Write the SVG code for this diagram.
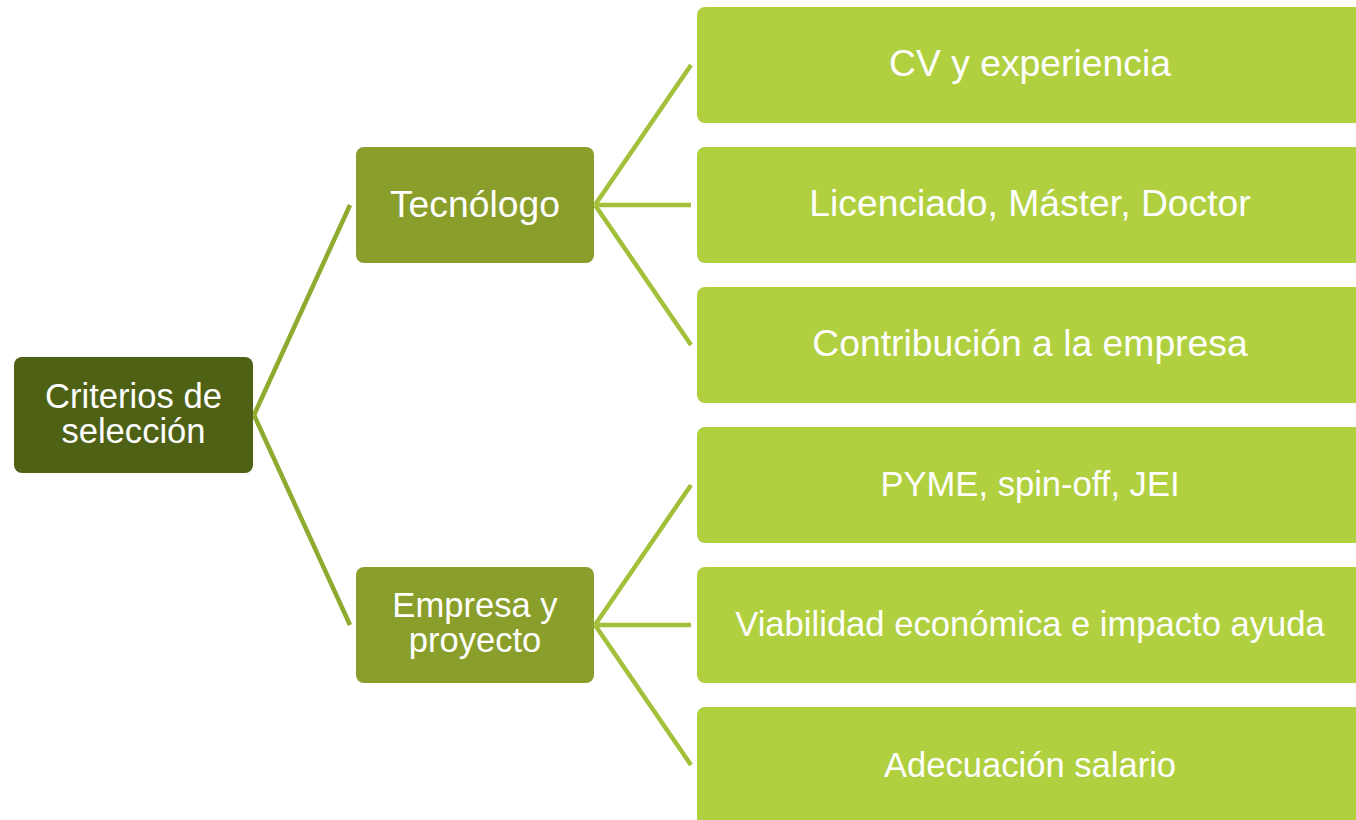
<svg xmlns="http://www.w3.org/2000/svg" width="1356" height="820" viewBox="0 0 1356 820">
<style>
text{font-family:"Liberation Sans",Arial,sans-serif;fill:#ffffff;text-anchor:middle;font-size:34.6px}
.big{font-size:37.3px}
.sm{font-size:34.6px}
.root{fill:#4e6115}
.mid{fill:#8a9e2b}
.leaf{fill:#b0d040}
.c1{stroke:#8eaa2f;stroke-width:4.5;fill:none}
.c2{stroke:#a2c039;stroke-width:4.5;fill:none}
</style>
<rect width="1356" height="820" fill="#ffffff"/>
<g id="connectors">
<line class="c1" x1="254" y1="415" x2="350" y2="205"/>
<line class="c1" x1="254" y1="415" x2="350" y2="625"/>
<line class="c2" x1="595" y1="205" x2="691" y2="65"/>
<line class="c2" x1="595" y1="205" x2="691" y2="205"/>
<line class="c2" x1="595" y1="205" x2="691" y2="345"/>
<line class="c2" x1="595" y1="625" x2="691" y2="485"/>
<line class="c2" x1="595" y1="625" x2="691" y2="625"/>
<line class="c2" x1="595" y1="625" x2="691" y2="765"/>
</g>
<g id="root">
<rect class="root" x="14" y="357" width="239" height="116" rx="8"/>
<text x="133.5" y="407.5">Criterios de</text>
<text x="133.5" y="443">selección</text>
</g>
<g id="tecnologo">
<rect class="mid" x="356" y="147" width="238" height="116" rx="8"/>
<text class="big" x="475" y="217">Tecnólogo</text>
</g>
<g id="empresa">
<rect class="mid" x="356" y="567" width="238" height="116" rx="8"/>
<text class="sm" x="475" y="617">Empresa y</text>
<text class="sm" x="475" y="652">proyecto</text>
</g>
<g id="cv">
<rect class="leaf" x="697" y="7" width="672" height="116" rx="8"/>
<text class="big" x="1030" y="76">CV y experiencia</text>
</g>
<g id="licenciado">
<rect class="leaf" x="697" y="147" width="672" height="116" rx="8"/>
<text class="big" x="1030" y="216">Licenciado, Máster, Doctor</text>
</g>
<g id="contribucion">
<rect class="leaf" x="697" y="287" width="672" height="116" rx="8"/>
<text class="big" x="1030" y="356">Contribución a la empresa</text>
</g>
<g id="pyme">
<rect class="leaf" x="697" y="427" width="672" height="116" rx="8"/>
<text class="sm" x="1030" y="496">PYME, spin-off, JEI</text>
</g>
<g id="viabilidad">
<rect class="leaf" x="697" y="567" width="672" height="116" rx="8"/>
<text class="sm" x="1030" y="636">Viabilidad económica e impacto ayuda</text>
</g>
<g id="adecuacion">
<rect class="leaf" x="697" y="707" width="672" height="130" rx="8"/>
<text class="sm" x="1030" y="777">Adecuación salario</text>
</g>
</svg>
